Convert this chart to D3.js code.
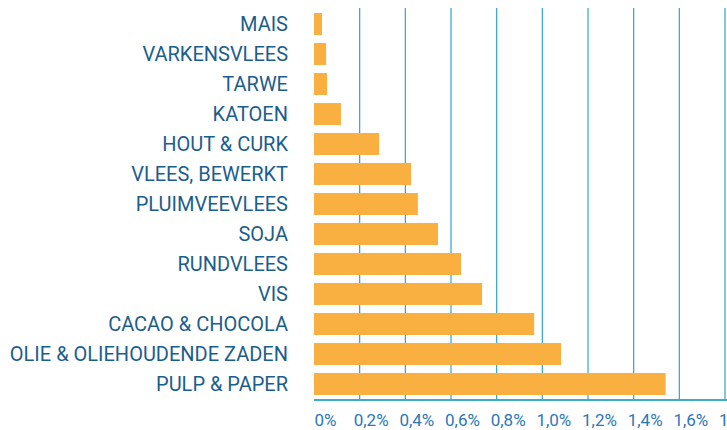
<!DOCTYPE html>
<html>
<head>
<meta charset="utf-8">
<script src="https://cdn.jsdelivr.net/npm/d3@7"></script>
<style>
  body { margin: 0; background: #fff; }
  svg { display: block; }
</style>
</head>
<body>
<svg id="chart" width="727" height="430"></svg>
<script>
// categories top to bottom, share in %
var categories = [
    "MAIS",
    "VARKENSVLEES",
    "TARWE",
    "KATOEN",
    "HOUT & CURK",
    "VLEES, BEWERKT",
    "PLUIMVEEVLEES",
    "SOJA",
    "RUNDVLEES",
    "VIS",
    "CACAO & CHOCOLA",
    "OLIE & OLIEHOUDENDE ZADEN",
    "PULP & PAPER"
];
var values = [0.035, 0.053, 0.057, 0.118, 0.285, 0.425, 0.455, 0.543, 0.644, 0.736, 0.964, 1.082, 1.54];
var ticks = [0, 0.2, 0.4, 0.6, 0.8, 1.0, 1.2, 1.4, 1.6, 1.8];

(function() {
    var svg = d3.select('svg#chart');

    var x = d3.scaleLinear().domain([0, 1.8]).range([314, 725]);
    var y = d3.scaleBand()
        .domain(categories)
        .range([9, 399])
        .paddingInner(8 / 30)
        .paddingOuter(4 / 30);

    var axisY = 400;

    // gridlines (behind the bars)
    svg.append('g').selectAll('line')
        .data(ticks.filter(function(d) { return d > 0; }))
        .enter().append('line')
        .attr('x1', function(d) { return x(d); })
        .attr('x2', function(d) { return x(d); })
        .attr('y1', 8)
        .attr('y2', axisY)
        .attr('stroke', '#2fa6c6')
        .attr('stroke-width', 1.2);

    // bars
    svg.append('g').selectAll('rect')
        .data(values)
        .enter().append('rect')
        .attr('x', x(0))
        .attr('y', function(d, i) { return y(categories[i]); })
        .attr('width', function(d) { return x(d) - x(0); })
        .attr('height', y.bandwidth())
        .attr('fill', '#f9b040');

    // bottom axis line
    svg.append('line')
        .attr('x1', x(0))
        .attr('x2', 727)
        .attr('y1', axisY)
        .attr('y2', axisY)
        .attr('stroke', '#3aaccc')
        .attr('stroke-width', 2);

    // tick labels (the last one runs off the edge, as in the original)
    svg.append('g').selectAll('text')
        .data(ticks)
        .enter().append('text')
        .attr('x', function(d) { return x(d) + 11.5; })
        .attr('y', 426)
        .attr('text-anchor', 'middle')
        .attr('font-family', 'Roboto, sans-serif')
        .attr('font-size', 17)
        .attr('fill', '#2a78b8')
        .text(function(d) {
            return d === 0 ? '0%' : d.toFixed(1).replace('.', ',') + '%';
        });

    // category labels
    svg.append('g').selectAll('text')
        .data(categories)
        .enter().append('text')
        .attr('x', 288)
        .attr('y', function(d) { return y(d) + y.bandwidth() / 2; })
        .attr('dy', '0.36em')
        .attr('text-anchor', 'end')
        .attr('font-family', 'Roboto, sans-serif')
        .attr('font-size', 20)
        .attr('fill', '#1b5e8c')
        .text(function(d) { return d; });
})();
</script>
</body>
</html>
